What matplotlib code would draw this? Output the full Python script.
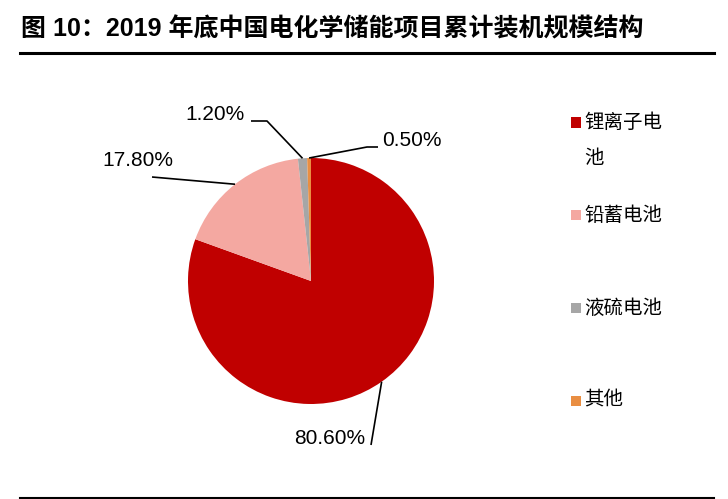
import numpy as np
import matplotlib.pyplot as plt
from matplotlib.patches import Rectangle

plt.rcParams['font.family'] = ['Liberation Sans', 'Noto Sans CJK SC', 'DejaVu Sans']

# data
categories = ['锂离子电\n池', '铅蓄电池', '液硫电池', '其他']
shares = [80.6, 17.8, 1.2, 0.5]
value_labels = ['80.60%', '17.80%', '1.20%', '0.50%']
colors = ['#C00000', '#F4A8A1', '#A6A6A6', '#E98E42']

W, H = 728, 499
fig = plt.figure(figsize=(W / 100, H / 100), dpi=100)

# pie centre (311, 281) px, radius 123 px
cx, cy, r = 311, 281, 123
ax = fig.add_axes([(cx - r) / W, (H - cy - r) / H, 2 * r / W, 2 * r / H])
wedges, _ = ax.pie(shares, colors=colors, startangle=90, counterclock=False,
                   radius=1, wedgeprops=dict(linewidth=0))
ax.set_xlim(-1, 1)
ax.set_ylim(-1, 1)
ax.axis('off')


def px(x, y):
    # pixel position -> data coords of the pie axes
    return (x - cx) / r, (cy - y) / r


# leader line path (pixels, from the label side) and text anchor per slice
leaders = [
    ([(371, 445)], (365, 439), 'right'),
    ([(152, 177)], (173, 160), 'right'),
    ([(251, 121), (267, 121)], (245, 115), 'right'),
    ([(378, 147), (367, 147)], (382, 141), 'left'),
]

for w, lab, (pts, tpos, ha) in zip(wedges, value_labels, leaders):
    mid = np.deg2rad((w.theta1 + w.theta2) / 2)
    xs = [px(*p)[0] for p in pts] + [np.cos(mid)]
    ys = [px(*p)[1] for p in pts] + [np.sin(mid)]
    ax.plot(xs, ys, color='black', lw=1.2, clip_on=False, solid_capstyle='butt')
    tx, ty = px(*tpos)
    ax.text(tx, ty, lab, ha=ha, va='center', fontsize=15, clip_on=False)

# legend drawn by hand to match the spacing
for i, (cat, col) in enumerate(zip(categories, colors)):
    my = 122.5 + i * 92.8
    fig.patches.append(Rectangle((571 / W, (H - my - 5) / H), 10 / W, 10 / H,
                                 transform=fig.transFigure, color=col, lw=0))
    fig.text(584 / W, (H - my + 9) / H, cat, ha='left', va='top', fontsize=14,
             linespacing=2.4)

# title and rules
fig.text(21 / W, (H - 29) / H, '图 10：2019 年底中国电化学储能项目累计装机规模结构',
         fontsize=18, fontweight='bold', ha='left', va='center')
fig.add_artist(plt.Line2D([20 / W, 714 / W], [(H - 53) / H] * 2, color='black', lw=2.2))
fig.add_artist(plt.Line2D([20 / W, 714 / W], [(H - 497.5) / H] * 2, color='black', lw=1.5))

fig.savefig('out.png', dpi=100)
